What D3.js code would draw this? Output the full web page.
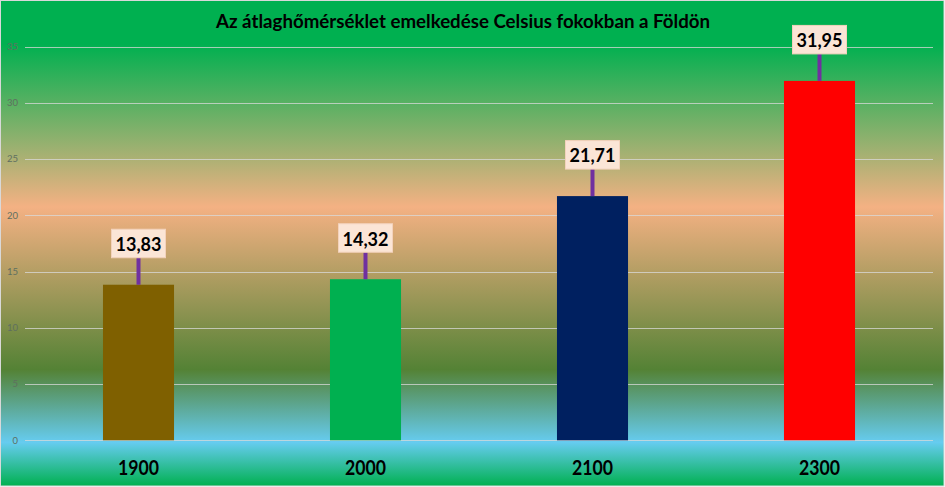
<!DOCTYPE html>
<html><head><meta charset="utf-8">
<script src="https://cdn.jsdelivr.net/npm/d3@7"></script>
<style>html,body{margin:0;padding:0;background:#fff;}svg{display:block;}</style>
</head><body>
<script>
const categories = ["1900", "2000", "2100", "2300"];
const values = [13.83, 14.32, 21.71, 31.95];
const valueLabels = ["13,83", "14,32", "21,71", "31,95"];
const barColors = ["#7F6000", "#00B050", "#002060", "#FF0000"];
const yTicks = [0, 5, 10, 15, 20, 25, 30, 35];
const title = "Az átlaghőmérséklet emelkedése Celsius fokokban a Földön";

const W = 945, H = 487;
const svg = d3.select("body").append("svg").attr("width", W).attr("height", H);

const defs = svg.append("defs");
const grad = defs.append("linearGradient").attr("id", "bg").attr("x1", 0).attr("y1", 0).attr("x2", 0).attr("y2", 1);
[[0, "#00B050"], [0.09, "#00B050"], [0.425, "#F4B183"], [0.76, "#548235"], [0.91, "#66CCF0"], [1, "#00B050"]]
  .forEach(([o, c]) => grad.append("stop").attr("offset", o).attr("stop-color", c));

svg.append("rect").attr("x", 0.5).attr("y", 0.5).attr("width", W - 1.5).attr("height", H - 1.5)
  .attr("fill", "url(#bg)").attr("stroke", "#D9D9D9").attr("stroke-width", 1);

const x = d3.scaleBand().domain(categories).range([25, 933]).padding(0);
const y = d3.scaleLinear().domain([0, 35]).range([440.3, 46.6]);
const barW = x.bandwidth() * 0.313;

// gridlines
svg.append("g").selectAll("line").data(yTicks).join("line")
  .attr("x1", 25).attr("x2", 933)
  .attr("y1", d => Math.round(y(d)) + 0.5).attr("y2", d => Math.round(y(d)) + 0.5)
  .attr("stroke", "#D9D9D9").attr("stroke-opacity", 0.75).attr("stroke-width", 1);

// y tick labels
svg.append("g").selectAll("text").data(yTicks).join("text")
  .attr("x", 18).attr("y", d => y(d)).attr("dy", "0.35em")
  .attr("text-anchor", "end")
  .attr("font-family", "Lato, 'Open Sans', sans-serif").attr("font-size", 9.5)
  .attr("fill", "#5F6F60").text(d => d);

// bars
const cx = c => x(c) + x.bandwidth() / 2;
svg.append("g").selectAll("rect").data(categories).join("rect")
  .attr("x", (c) => cx(c) - barW / 2)
  .attr("y", (c, i) => y(values[i]))
  .attr("width", barW)
  .attr("height", (c, i) => y(0) - y(values[i]))
  .attr("fill", (c, i) => barColors[i]);

// leader lines + label boxes
const boxGap = 27, boxH = 28.5, boxW = 54;
const lg = svg.append("g");
categories.forEach((c, i) => {
  const top = y(values[i]);
  const bBottom = top - boxGap;
  lg.append("line").attr("x1", cx(c)).attr("x2", cx(c))
    .attr("y1", bBottom).attr("y2", top)
    .attr("stroke", "#7030A0").attr("stroke-width", 4);
  lg.append("rect").attr("x", cx(c) - boxW / 2).attr("y", bBottom - boxH)
    .attr("width", boxW).attr("height", boxH)
    .attr("fill", "#FBE5D6").attr("stroke", "#F3D2BC").attr("stroke-width", 1);
  lg.append("text").attr("x", cx(c)).attr("y", bBottom - 6.7)
    .attr("text-anchor", "middle")
    .attr("font-family", "Lato, 'Open Sans', sans-serif").attr("font-weight", "bold")
    .attr("font-size", 19.5).attr("fill", "#000")
    .attr("textLength", 46).attr("lengthAdjust", "spacingAndGlyphs")
    .text(valueLabels[i]);
});

// x axis labels
svg.append("g").selectAll("text").data(categories).join("text")
  .attr("x", c => cx(c)).attr("y", 475)
  .attr("text-anchor", "middle")
  .attr("font-family", "Lato, 'Open Sans', sans-serif").attr("font-weight", "bold")
  .attr("font-size", 20.5).attr("fill", "#000")
  .attr("textLength", 41).attr("lengthAdjust", "spacingAndGlyphs")
  .text(c => c);

// title
svg.append("text").attr("x", 463).attr("y", 28.3)
  .attr("text-anchor", "middle")
  .attr("font-family", "Lato, 'Open Sans', sans-serif").attr("font-weight", "bold")
  .attr("font-size", 19).attr("fill", "#000")
  .attr("textLength", 494).attr("lengthAdjust", "spacingAndGlyphs")
  .text(title);
</script>
</body></html>
